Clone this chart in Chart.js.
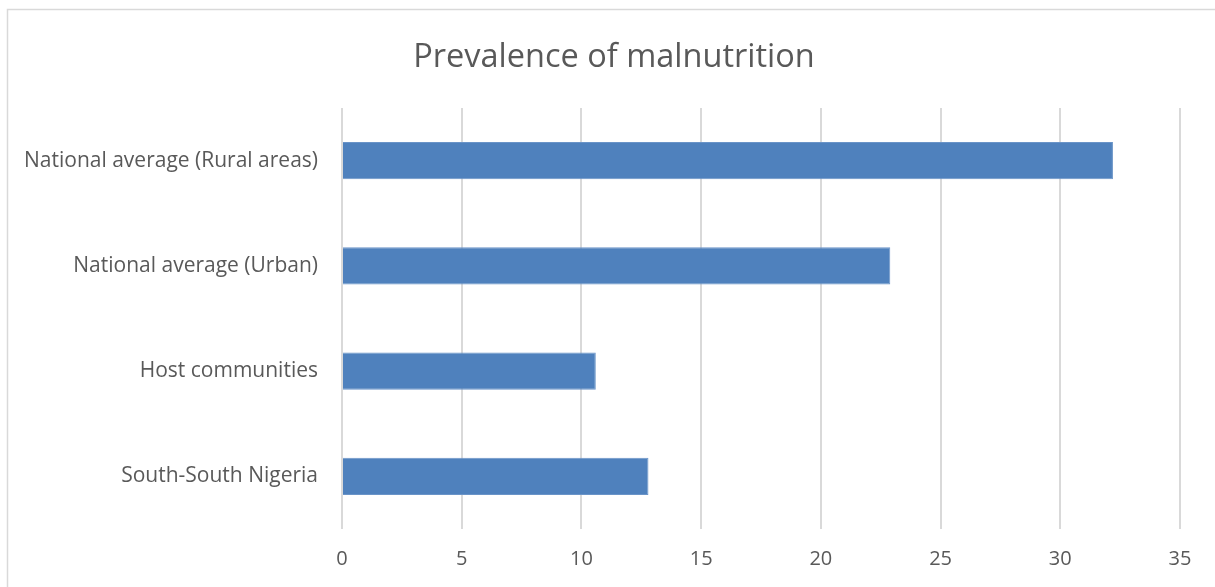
<!DOCTYPE html>
<html>
<head>
<meta charset="utf-8">
<script src="https://cdn.jsdelivr.net/npm/chart.js@4/dist/chart.umd.min.js"></script>
<style>
  html, body { margin: 0; padding: 0; background: #ffffff; }
  #wrap { position: relative; width: 1215px; height: 587px; }
</style>
</head>
<body>
<div id="wrap"><canvas id="chart" width="1215" height="587"></canvas></div>
<script>
// Prevalence of malnutrition by area (%)
const categories = [
  'National average (Rural areas)',
  'National average (Urban)',
  'Host communities',
  'South-South Nigeria'
];
const prevalence = [32.2, 22.9, 10.6, 12.8];
const xTicks = [0, 5, 10, 15, 20, 25, 30, 35];

const TEXT = '#595959';
const GRID = '#d9d9d9';
const FONT = "'Open Sans', 'Noto Sans', sans-serif";

// Thin frame around the chart object
const framePlugin = {
  id: 'frame',
  beforeDraw(chart) {
    const ctx = chart.ctx;
    ctx.save();
    ctx.strokeStyle = '#d9d9d9';
    ctx.lineWidth = 1.5;
    ctx.strokeRect(7.5, 9.5, 1220, 600);
    ctx.restore();
  }
};

new Chart(document.getElementById('chart'), {
  type: 'bar',
  data: {
    labels: categories,
    datasets: [{
      data: prevalence,
      backgroundColor: '#4f81bd',
      borderColor: '#6a94c8',
      borderWidth: 1,
      categoryPercentage: 1,
      barPercentage: 0.352
    }]
  },
  options: {
    indexAxis: 'y',
    responsive: false,
    animation: false,
    devicePixelRatio: 1,
    layout: { padding: { top: 0, left: 13, right: 0, bottom: 0 } },
    plugins: {
      legend: { display: false },
      tooltip: { enabled: false },
      title: {
        display: true,
        text: 'Prevalence of malnutrition',
        color: TEXT,
        font: { family: FONT, size: 32.5, weight: 'normal' },
        padding: { top: 38, bottom: 31 }
      }
    },
    scales: {
      x: {
        min: 0,
        max: 35,
        afterBuildTicks(scale) {
          scale.ticks = xTicks.map(v => ({ value: v }));
        },
        afterFit(scale) { scale.height = 58; },
        grid: {
          color: GRID,
          lineWidth: 2,
          drawTicks: false
        },
        border: { display: false },
        ticks: {
          color: TEXT,
          padding: 18,
          maxRotation: 0,
          font: { family: FONT, size: 20 }
        }
      },
      y: {
        afterFit(scale) { scale.width = 329; },
        grid: { display: false, drawTicks: false },
        border: { display: false },
        ticks: {
          color: TEXT,
          padding: 24,
          font: { family: FONT, size: 21 }
        }
      },
      // empty right-hand margin so the last tick label has room
      yRight: {
        type: 'category',
        position: 'right',
        afterFit(scale) { scale.width = 35; },
        grid: { display: false, drawTicks: false },
        border: { display: false },
        ticks: { display: false }
      }
    }
  },
  plugins: [framePlugin]
});
</script>
</body>
</html>
